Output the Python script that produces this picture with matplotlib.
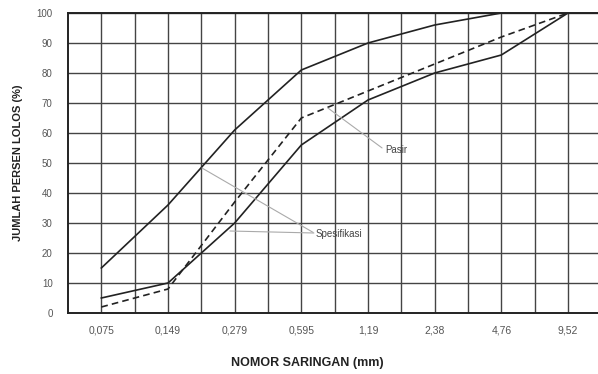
import matplotlib
matplotlib.use("Agg")
import matplotlib.pyplot as plt
import numpy as np

plt.rcParams['font.family'] = ['Liberation Sans', 'DejaVu Sans']

sieves = ["0,075", "0,149", "0,279", "0,595", "1,19", "2,38", "4,76", "9,52"]
spec_upper = [15, 36, 61, 81, 90, 96, 100, 100]
spec_lower = [5, 10, 30, 56, 71, 80, 86, 100]
pasir = [2, 8, 37, 65, 74, 83, 92, 100]
y_ticks = [0, 10, 20, 30, 40, 50, 60, 70, 80, 90, 100]

W, H = 598, 374
fig = plt.figure(figsize=(W/100, H/100), dpi=100)
ax = fig.add_axes([68/W, 1-313/H, (598-68)/W, 300/H])

x = np.arange(len(sieves)) + 0.5
ax.set_xlim(0, 7.95)
ax.set_ylim(0, 100)

# grid
for gx in np.arange(0.5, 8.0, 0.5):
    ax.axvline(gx, color='#444444', lw=1.0, zorder=1)
for gy in y_ticks[1:]:
    ax.axhline(gy, color='#444444', lw=1.0, zorder=1)

ax.plot(x, spec_upper, color='#222222', lw=1.2, zorder=3)
ax.plot(x, spec_lower, color='#222222', lw=1.2, zorder=3)
ax.plot(x, pasir, color='#222222', lw=1.2, ls=(0, (4, 2.5)), zorder=3)

for s in ['right']:
    ax.spines[s].set_visible(False)
for s in ['left', 'bottom', 'top']:
    ax.spines[s].set_linewidth(1.4)
    ax.spines[s].set_color('#222222')

ax.set_xticks(x)
ax.set_xticklabels(sieves)
ax.set_yticks(y_ticks)
ax.tick_params(axis='both', length=0, labelcolor='#555555')
ax.tick_params(axis='x', pad=9, labelsize=7.5)
ax.tick_params(axis='y', pad=11, labelsize=7)

# annotations
def px(xp, yp):
    return ((xp - 68) / 66.7, (313 - yp) / 3.0)

ax.annotate('Pasir', xy=px(328, 108), xytext=px(385, 150), fontsize=7, color='#444444',
            va='center', ha='left',
            arrowprops=dict(arrowstyle='-', color='#aaaaaa', lw=0.8, shrinkA=0, shrinkB=0,
                            relpos=(0, 0.5)), annotation_clip=False, zorder=4)
ax.annotate('Spesifikasi', xy=px(202, 168), xytext=px(316, 234), fontsize=7, color='#444444',
            va='center', ha='left',
            arrowprops=dict(arrowstyle='-', color='#aaaaaa', lw=0.8, shrinkA=0, shrinkB=0,
                            relpos=(0, 0.5)), annotation_clip=False, zorder=4)
ax.annotate('', xy=px(230, 231), xytext=px(314, 233),
            arrowprops=dict(arrowstyle='-', color='#aaaaaa', lw=0.8, shrinkA=0, shrinkB=0),
            annotation_clip=False, zorder=4)

fig.text(18/W, 1-163/H, 'JUMLAH PERSEN LOLOS (%)', rotation=90, ha='center', va='center',
         fontsize=8, fontweight='bold', color='#222222')
fig.text(307/W, 1-363/H, 'NOMOR SARINGAN (mm)', ha='center', va='center',
         fontsize=9, fontweight='bold', color='#222222')

fig.savefig('out.png', dpi=100)
